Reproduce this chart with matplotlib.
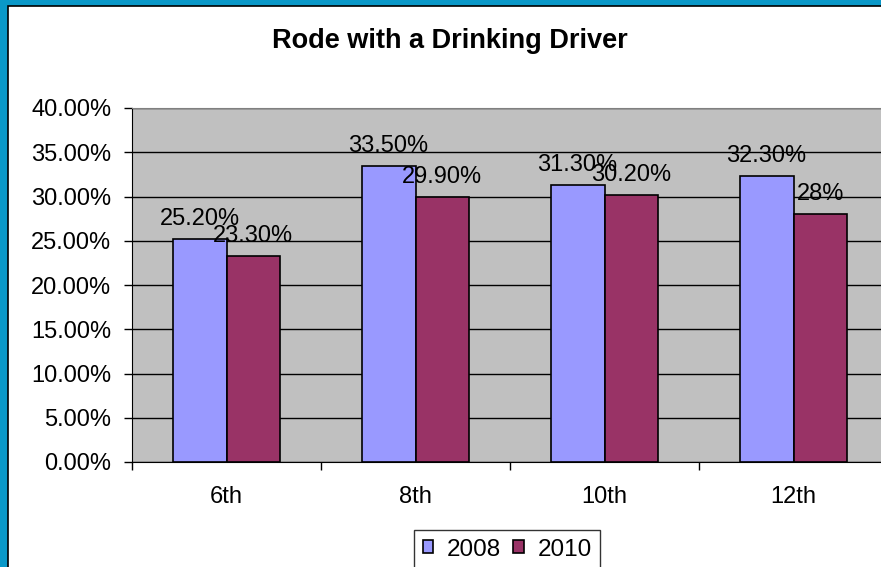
import matplotlib
matplotlib.use('Agg')
import matplotlib.pyplot as plt
from matplotlib.patches import Rectangle, Patch
import numpy as np

plt.rcParams['font.family'] = ['Liberation Sans', 'DejaVu Sans']

# data
grades = ['6th', '8th', '10th', '12th']
years = ['2008', '2010']
vals_2008 = [25.2, 33.5, 31.3, 32.3]
vals_2010 = [23.3, 29.9, 30.2, 28.0]
labels_2008 = ['25.20%', '33.50%', '31.30%', '32.30%']
labels_2010 = ['23.30%', '29.90%', '30.20%', '28%']
colors = ['#9999FF', '#993366']

W, H = 881, 567
fig = plt.figure(figsize=(W / 100, H / 100), dpi=100, facecolor='#0A98C8')

# white chart area with black border (slide background shows top/left)
fig.patches.append(Rectangle((8 / W, -0.01), 1.0, 1 - 6 / H + 0.01,
                             transform=fig.transFigure, facecolor='white',
                             edgecolor='black', linewidth=1.2, zorder=-10))

# plot area runs off the right edge like in the original
left, right, top, bottom = 132, 888, 108, 462
ax = fig.add_axes([left / W, 1 - bottom / H, (right - left) / W, (bottom - top) / H])
ax.set_facecolor('#C0C0C0')

x = np.arange(len(grades))
w = 0.285
b1 = ax.bar(x - w / 2, vals_2008, w, color=colors[0], edgecolor='black', linewidth=1.2, zorder=3)
b2 = ax.bar(x + w / 2, vals_2010, w, color=colors[1], edgecolor='black', linewidth=1.2, zorder=3)

for bars, labs in [(b1, labels_2008), (b2, labels_2010)]:
    for bar, lab in zip(bars, labs):
        ax.annotate(lab, (bar.get_x() + bar.get_width() / 2, bar.get_height()),
                    xytext=(0, 10), textcoords='offset points',
                    ha='center', va='baseline', fontsize=17, zorder=5)

ax.set_ylim(0, 40)
ax.set_xlim(-0.5, len(grades) - 0.5)
yt = np.arange(0, 41, 5)
ax.set_yticks(yt)
ax.set_yticklabels(['%.2f%%' % v for v in yt], fontsize=17)
ax.yaxis.grid(True, color='black', linewidth=1.0, zorder=1)
ax.set_axisbelow(True)

# category boundaries get the tick marks, names sit in between
ax.set_xticks(np.arange(-0.5, len(grades), 1.0))
ax.set_xticklabels([])
ax.set_xticks(x, minor=True)
ax.set_xticklabels(grades, minor=True, fontsize=17)
ax.tick_params(axis='x', which='minor', length=0, pad=17)
ax.tick_params(axis='both', which='major', direction='out', length=6, width=1, color='black')
ax.tick_params(axis='y', pad=9)

for s in ['top', 'right']:
    ax.spines[s].set_color('#808080')
ax.spines['left'].set_color('black')
ax.spines['bottom'].set_color('black')

fig.text(450 / W, 1 - 48 / H, 'Rode with a Drinking Driver', ha='center', va='baseline',
         fontsize=19.5, fontweight='bold')

handles = [Patch(facecolor=c, edgecolor='black', linewidth=1.2) for c in colors]
fig.legend(handles, years, loc='upper left', bbox_to_anchor=(414 / W, 1 - 530 / H),
           ncol=2, fontsize=17.5, frameon=True, fancybox=False, edgecolor='black',
           handlelength=0.45, handleheight=0.45, handletextpad=0.55, columnspacing=0.5,
           borderpad=0.35, borderaxespad=0)

fig.savefig('out.png', dpi=100, facecolor=fig.get_facecolor())
